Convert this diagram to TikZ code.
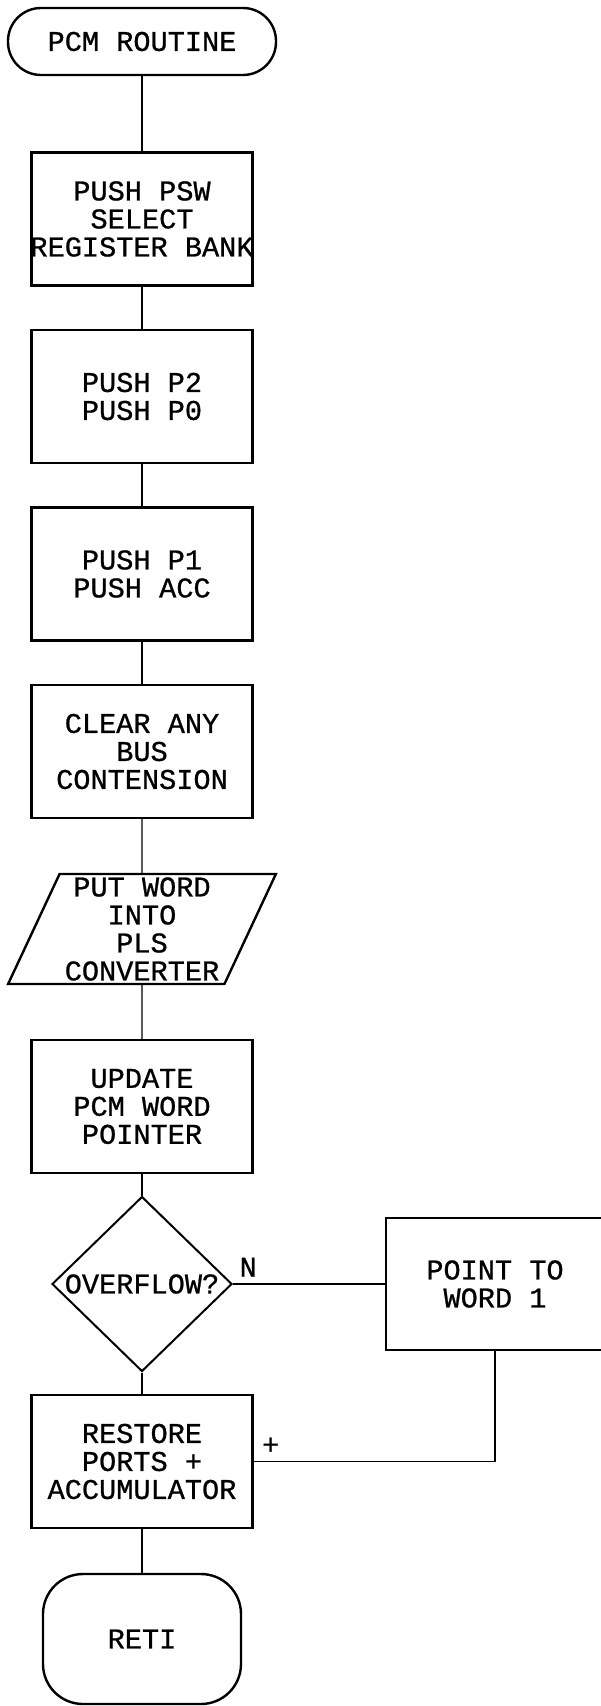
\documentclass[tikz,border=0pt]{standalone}
\usepackage{fontspec}
\setmainfont{Liberation Mono}[WordSpace={1,0,0}, FakeBold=0.8]
\usepackage{tikz}
\usetikzlibrary{shapes.geometric, arrows}
\usetikzlibrary{positioning}
\newcommand{\chartfont}{\fontsize{14.3}{14}\selectfont}
\tikzstyle{startstop} = [rectangle, rounded corners=16.5pt, minimum width=134pt, minimum height=33.5pt, inner sep=0pt, draw=black, line width=1.2pt]
\tikzstyle{process} = [rectangle, minimum width=110.5pt, minimum height=66.5pt, inner ysep=0pt, inner xsep=-1pt, align=center, draw=black, line width=1.2pt]
\tikzstyle{io} = [trapezium, trapezium left angle=65, trapezium right angle=115, trapezium stretches=true, minimum width=134pt, minimum height=55pt, inner sep=0pt, align=center, draw=black, line width=1.2pt]
\tikzstyle{decision} = [diamond, minimum width=90pt, minimum height=87.5pt, inner sep=0pt, draw=black, line width=1pt]
\tikzstyle{link} = [line width=0.7pt, -]

\begin{document}
\begin{tikzpicture}[node distance = 88.75pt, font=\chartfont]
                            \useasboundingbox (-71pt,20.75pt) rectangle (229pt,-832.25pt);
                            \node (n_start) [startstop] {PCM ROUTINE};
                            \node (n_push_psw) [process, below of = n_start] {PUSH PSW\\SELECT\\REGISTER BANK};
                            \node (n_push_p2) [process, below of = n_push_psw] {PUSH P2\\PUSH P0};
                            \node (n_push_p1) [process, below of = n_push_p2] {PUSH P1\\PUSH ACC};
                            \node (n_clear) [process, below of = n_push_p1] {CLEAR ANY\\BUS\\CONTENSION};
                            \node (n_put) [io, below of = n_clear] {PUT WORD\\INTO\\PLS\\CONVERTER};
                            \node (n_update) [process, below of = n_put] {UPDATE\\PCM WORD\\POINTER};
                            \node (n_ovf) [decision, below of = n_update] {OVERFLOW?};
                            \node (n_point) [process, minimum width=109pt, minimum height=66pt, node distance = 176.5pt, right of = n_ovf] {POINT TO\\WORD 1};
                            \node (n_restore) [process, below of = n_ovf] {RESTORE\\PORTS +\\ACCUMULATOR};
                            \node (n_reti) [startstop, rounded corners=20pt, minimum width=99pt, minimum height=65pt, below of = n_restore] {RETI};
                            \draw [link] (n_start) -- (n_push_psw);
                            \draw [link] (n_push_psw) -- (n_push_p2);
                            \draw [link] (n_push_p2) -- (n_push_p1);
                            \draw [link] (n_push_p1) -- (n_clear);
                            \draw [link] (n_clear) -- (n_put);
                            \draw [link] (n_put) -- (n_update);
                            \draw [link] (n_update) -- (n_ovf);
                            \draw [link] (n_ovf) -- node [pos = 0.1, above] {N} (n_point);
                            \draw [link] (n_ovf) -- (n_restore);
                            \draw [link] (n_point) |- node [pos = 0.965, above] {+} (n_restore);
                            \draw [link] (n_restore) -- (n_reti);
                        \end{tikzpicture}
\end{document}
